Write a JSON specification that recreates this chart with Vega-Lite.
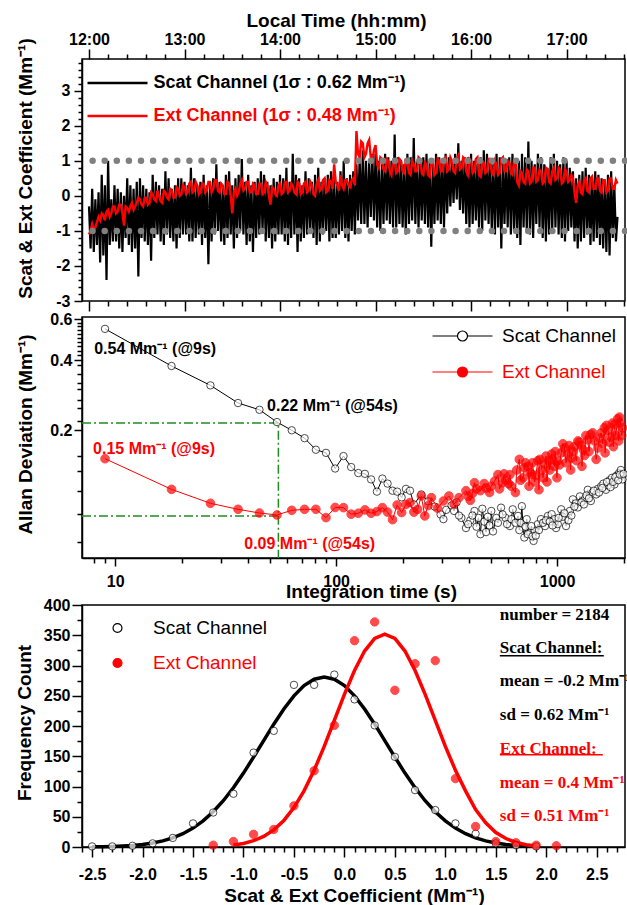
{
"$schema":"https://vega.github.io/schema/vega-lite/v6.json",
"padding":{"left":14,"top":10,"right":0,"bottom":0},
"bounds":"flush",
"spacing":16,
"config":{
 "font":"Liberation Sans",
 "view":{"stroke":"#000","strokeWidth":1.5},
 "axis":{"domainColor":"#000","domainWidth":1.5,"tickColor":"#000","tickWidth":1.5,"labelFont":"Liberation Sans","labelFontWeight":"bold","labelFontSize":16,"labelColor":"#000","titleFont":"Liberation Sans","titleFontWeight":"bold","titleFontSize":19,"titleColor":"#000","grid":false,"labelOverlap":false,"labelBound":false,"labelFlush":false}
},
"resolve":{"scale":{"x":"independent","y":"independent","color":"independent"}},
"datasets":{
 "ts":[
{"m":0,"s":-0.3,"e":-1.1},{"m":1,"s":-1.5,"e":-1.0},{"m":2,"s":0.2,"e":-0.8},{"m":3,"s":-1.6,"e":-0.95},{"m":4,"s":-0.1,"e":-0.9},{"m":5,"s":-1.4,"e":-0.75},{"m":6,"s":0.1,"e":-0.6},{"m":7,"s":-1.9,"e":-0.7},{"m":8,"s":0.6,"e":-0.5},{"m":9,"s":-1.7,"e":-0.55},
{"m":10,"s":0.3,"e":-0.7},{"m":11,"s":-2.4,"e":-0.45},{"m":12,"s":1.0,"e":-0.4},{"m":13,"s":-1.4,"e":-0.6},{"m":14,"s":-0.1,"e":-0.5},{"m":15,"s":-1.3,"e":-0.3},{"m":16,"s":0.3,"e":-0.3},{"m":17,"s":-1.3,"e":-0.5},{"m":18,"s":0.2,"e":-0.45},{"m":19,"s":-1.5,"e":-0.25},
{"m":20,"s":0.1,"e":-0.25},{"m":21,"s":-1.6,"e":-0.5},{"m":22,"s":0.0,"e":-0.85},{"m":23,"s":-1.2,"e":-0.3},{"m":24,"s":0.5,"e":-0.35},{"m":25,"s":-1.4,"e":-0.45},{"m":26,"s":0.3,"e":-0.3},{"m":27,"s":-1.6,"e":-0.2},{"m":28,"s":0.2,"e":-0.4},{"m":29,"s":-1.5,"e":-0.3},
{"m":30,"s":0.4,"e":-0.2},{"m":31,"s":-2.3,"e":-0.05},{"m":32,"s":0.5,"e":-0.1},{"m":33,"s":-1.2,"e":-0.25},{"m":34,"s":0.3,"e":-0.3},{"m":35,"s":-1.3,"e":-0.05},{"m":36,"s":0.2,"e":-0.05},{"m":37,"s":-1.4,"e":-0.25},{"m":38,"s":0.1,"e":-0.2},{"m":39,"s":-1.85,"e":0.1},
{"m":40,"s":0.6,"e":0.05},{"m":41,"s":-1.2,"e":-0.1},{"m":42,"s":0.4,"e":-0.15},{"m":43,"s":-1.1,"e":0.15},{"m":44,"s":0.3,"e":0.0},{"m":45,"s":-1.3,"e":-0.15},{"m":46,"s":0.2,"e":-0.2},{"m":47,"s":-1.4,"e":0.15},{"m":48,"s":0.7,"e":0.1},{"m":49,"s":-1.1,"e":-0.05},
{"m":50,"s":0.5,"e":-0.1},{"m":51,"s":-1.2,"e":0.2},{"m":52,"s":0.2,"e":0.15},{"m":53,"s":-1.3,"e":-0.05},{"m":54,"s":0.3,"e":-0.05},{"m":55,"s":-1.5,"e":0.25},{"m":56,"s":0.5,"e":0.2},{"m":57,"s":-1.2,"e":0.0},{"m":58,"s":0.5,"e":0.05},{"m":59,"s":-1.1,"e":0.3},
{"m":60,"s":0.4,"e":0.25},{"m":61,"s":-1.1,"e":0.05},{"m":62,"s":0.3,"e":0.1},{"m":63,"s":-1.3,"e":0.35},{"m":64,"s":0.8,"e":0.4},{"m":65,"s":-1.3,"e":0.1},{"m":66,"s":0.5,"e":0.15},{"m":67,"s":-1.2,"e":0.4},{"m":68,"s":0.3,"e":0.3},{"m":69,"s":-1.1,"e":0.05},
{"m":70,"s":0.4,"e":0.1},{"m":71,"s":-1.4,"e":0.35},{"m":72,"s":0.6,"e":0.35},{"m":73,"s":-1.2,"e":0.1},{"m":74,"s":0.3,"e":0.15},{"m":75,"s":-1.95,"e":0.4},{"m":76,"s":0.4,"e":0.4},{"m":77,"s":-1.3,"e":0.1},{"m":78,"s":0.5,"e":0.2},{"m":79,"s":-1.1,"e":0.45},
{"m":80,"s":0.9,"e":0.45},{"m":81,"s":-1.0,"e":0.15},{"m":82,"s":0.4,"e":0.1},{"m":83,"s":-1.3,"e":0.35},{"m":84,"s":0.3,"e":0.3},{"m":85,"s":-1.4,"e":0.05},{"m":86,"s":0.6,"e":0.05},{"m":87,"s":-1.2,"e":0.4},{"m":88,"s":0.7,"e":0.35},{"m":89,"s":-1.1,"e":0.0},
{"m":90,"s":0.3,"e":-0.5},{"m":91,"s":-1.5,"e":0.1},{"m":92,"s":0.5,"e":0.2},{"m":93,"s":-1.2,"e":0.0},{"m":94,"s":0.6,"e":0.1},{"m":95,"s":-1.0,"e":0.35},{"m":96,"s":1.05,"e":0.45},{"m":97,"s":-1.1,"e":0.15},{"m":98,"s":0.4,"e":0.2},{"m":99,"s":-1.4,"e":0.4},
{"m":100,"s":0.6,"e":0.4},{"m":101,"s":-1.3,"e":0.1},{"m":102,"s":0.3,"e":0.1},{"m":103,"s":-1.6,"e":0.35},{"m":104,"s":0.4,"e":0.3},{"m":105,"s":-1.2,"e":0.05},{"m":106,"s":0.5,"e":0.05},{"m":107,"s":-1.1,"e":0.35},{"m":108,"s":0.7,"e":0.35},{"m":109,"s":-1.0,"e":0.05},
{"m":110,"s":0.6,"e":0.1},{"m":111,"s":-1.3,"e":0.4},{"m":112,"s":0.4,"e":0.3},{"m":113,"s":-1.2,"e":0.0},{"m":114,"s":0.3,"e":-0.25},{"m":115,"s":-1.5,"e":0.25},{"m":116,"s":0.5,"e":0.2},{"m":117,"s":-1.3,"e":0.05},{"m":118,"s":0.4,"e":0.0},{"m":119,"s":-1.1,"e":0.3},
{"m":120,"s":0.6,"e":0.35},{"m":121,"s":-1.1,"e":0.05},{"m":122,"s":0.5,"e":0.1},{"m":123,"s":-1.3,"e":0.4},{"m":124,"s":0.8,"e":0.4},{"m":125,"s":-1.4,"e":0.1},{"m":126,"s":0.4,"e":0.15},{"m":127,"s":-1.2,"e":0.35},{"m":128,"s":1.2,"e":0.3},{"m":129,"s":-1.1,"e":0.1},
{"m":130,"s":0.6,"e":0.05},{"m":131,"s":-1.6,"e":0.4},{"m":132,"s":0.5,"e":0.35},{"m":133,"s":-1.3,"e":0.05},{"m":134,"s":0.3,"e":0.1},{"m":135,"s":-1.2,"e":0.35},{"m":136,"s":0.7,"e":0.4},{"m":137,"s":-1.1,"e":0.1},{"m":138,"s":0.5,"e":0.15},{"m":139,"s":-1.0,"e":0.4},
{"m":140,"s":0.4,"e":0.3},{"m":141,"s":-1.2,"e":0.05},{"m":142,"s":0.6,"e":0.0},{"m":143,"s":-1.4,"e":0.35},{"m":144,"s":0.8,"e":0.45},{"m":145,"s":-1.3,"e":0.15},{"m":146,"s":0.4,"e":0.2},{"m":147,"s":-1.1,"e":0.45},{"m":148,"s":0.5,"e":0.5},{"m":149,"s":-1.0,"e":0.1},
{"m":150,"s":0.6,"e":0.15},{"m":151,"s":-1.3,"e":0.45},{"m":152,"s":0.7,"e":0.4},{"m":153,"s":-1.2,"e":0.2},{"m":154,"s":0.5,"e":0.9},{"m":155,"s":-1.2,"e":0.4},{"m":156,"s":0.4,"e":0.3},{"m":157,"s":-1.1,"e":0.15},{"m":158,"s":0.7,"e":0.6},{"m":159,"s":-1.0,"e":0.3},
{"m":160,"s":1.0,"e":0.2},{"m":161,"s":-1.2,"e":0.45},{"m":162,"s":0.5,"e":0.45},{"m":163,"s":-1.3,"e":0.3},{"m":164,"s":0.6,"e":0.25},{"m":165,"s":-1.0,"e":0.45},{"m":166,"s":0.7,"e":0.5},{"m":167,"s":-1.1,"e":0.3},{"m":168,"s":0.9,"e":1.85},{"m":169,"s":-0.7,"e":1.2},
{"m":170,"s":1.1,"e":1.1},{"m":171,"s":-0.8,"e":1.55},{"m":172,"s":1.3,"e":1.5},{"m":173,"s":-0.8,"e":1.1},{"m":174,"s":1.0,"e":1.2},{"m":175,"s":-0.9,"e":1.5},{"m":176,"s":1.0,"e":1.6},{"m":177,"s":-0.6,"e":1.1},{"m":178,"s":1.2,"e":1.0},{"m":179,"s":-0.7,"e":1.3},
{"m":180,"s":1.2,"e":1.45},{"m":181,"s":-0.9,"e":0.9},{"m":182,"s":1.0,"e":0.8},{"m":183,"s":-1.0,"e":1.1},{"m":184,"s":0.9,"e":1.05},{"m":185,"s":-0.8,"e":0.75},{"m":186,"s":1.2,"e":0.7},{"m":187,"s":-0.7,"e":1.05},{"m":188,"s":1.1,"e":1.0},{"m":189,"s":-0.8,"e":0.7},
{"m":190,"s":1.0,"e":0.6},{"m":191,"s":-0.9,"e":1.0},{"m":192,"s":1.75,"e":0.95},{"m":193,"s":-0.9,"e":0.65},{"m":194,"s":1.1,"e":0.7},{"m":195,"s":-0.8,"e":1.05},{"m":196,"s":1.0,"e":1.0},{"m":197,"s":-0.9,"e":0.7},{"m":198,"s":0.9,"e":0.65},{"m":199,"s":-1.1,"e":1.0},
{"m":200,"s":1.2,"e":0.95},{"m":201,"s":-0.8,"e":0.65},{"m":202,"s":1.1,"e":0.6},{"m":203,"s":-0.7,"e":1.0},{"m":204,"s":1.65,"e":0.9},{"m":205,"s":-0.8,"e":0.7},{"m":206,"s":1.0,"e":0.7},{"m":207,"s":-0.9,"e":1.1},{"m":208,"s":1.0,"e":1.05},{"m":209,"s":-0.7,"e":0.65},
{"m":210,"s":1.1,"e":0.6},{"m":211,"s":-0.8,"e":0.95},{"m":212,"s":1.2,"e":0.9},{"m":213,"s":-0.9,"e":0.6},{"m":214,"s":1.0,"e":0.55},{"m":215,"s":-1.45,"e":1.0},{"m":216,"s":0.9,"e":0.95},{"m":217,"s":-0.8,"e":0.6},{"m":218,"s":1.2,"e":0.65},{"m":219,"s":-0.7,"e":1.05},
{"m":220,"s":1.1,"e":1.0},{"m":221,"s":-0.8,"e":0.7},{"m":222,"s":1.0,"e":0.7},{"m":223,"s":-0.9,"e":1.05},{"m":224,"s":1.2,"e":1.1},{"m":225,"s":-0.5,"e":0.7},{"m":226,"s":1.1,"e":0.75},{"m":227,"s":-0.3,"e":1.1},{"m":228,"s":1.0,"e":1.0},{"m":229,"s":-0.2,"e":0.7},
{"m":230,"s":1.2,"e":0.65},{"m":231,"s":-0.1,"e":1.05},{"m":232,"s":1.5,"e":1.15},{"m":233,"s":-0.4,"e":0.75},{"m":234,"s":1.0,"e":0.8},{"m":235,"s":-0.5,"e":1.1},{"m":236,"s":1.1,"e":1.05},{"m":237,"s":-0.8,"e":0.7},{"m":238,"s":1.1,"e":0.6},{"m":239,"s":-0.9,"e":1.05},
{"m":240,"s":1.2,"e":1.0},{"m":241,"s":-0.8,"e":0.65},{"m":242,"s":1.0,"e":0.7},{"m":243,"s":-0.7,"e":1.05},{"m":244,"s":0.9,"e":1.1},{"m":245,"s":-0.9,"e":0.6},{"m":246,"s":1.1,"e":0.55},{"m":247,"s":-1.0,"e":1.0},{"m":248,"s":1.3,"e":0.95},{"m":249,"s":-0.7,"e":0.65},
{"m":250,"s":1.2,"e":0.7},{"m":251,"s":-0.8,"e":1.05},{"m":252,"s":1.0,"e":1.05},{"m":253,"s":-1.0,"e":0.65},{"m":254,"s":0.9,"e":0.6},{"m":255,"s":-1.1,"e":1.0},{"m":256,"s":1.2,"e":0.9},{"m":257,"s":-0.9,"e":0.6},{"m":258,"s":1.1,"e":0.65},{"m":259,"s":-1.5,"e":1.05},
{"m":260,"s":1.0,"e":1.1},{"m":261,"s":-0.8,"e":0.7},{"m":262,"s":1.0,"e":0.7},{"m":263,"s":-0.9,"e":1.0},{"m":264,"s":1.1,"e":0.95},{"m":265,"s":-1.1,"e":0.65},{"m":266,"s":1.2,"e":0.6},{"m":267,"s":-1.0,"e":1.0},{"m":268,"s":0.9,"e":0.9},{"m":269,"s":-1.2,"e":0.4},
{"m":270,"s":1.0,"e":0.3},{"m":271,"s":-1.4,"e":0.7},{"m":272,"s":1.2,"e":0.65},{"m":273,"s":-0.9,"e":0.4},{"m":274,"s":1.1,"e":0.35},{"m":275,"s":-1.0,"e":0.75},{"m":276,"s":1.55,"e":0.7},{"m":277,"s":-1.1,"e":0.35},{"m":278,"s":1.0,"e":0.4},{"m":279,"s":-1.2,"e":0.8},
{"m":280,"s":0.9,"e":0.8},{"m":281,"s":-0.8,"e":0.4},{"m":282,"s":1.2,"e":0.45},{"m":283,"s":-0.9,"e":0.75},{"m":284,"s":1.1,"e":0.7},{"m":285,"s":-1.2,"e":0.35},{"m":286,"s":0.9,"e":0.4},{"m":287,"s":-1.3,"e":0.8},{"m":288,"s":0.8,"e":0.75},{"m":289,"s":-1.1,"e":0.4},
{"m":290,"s":1.1,"e":0.35},{"m":291,"s":-1.0,"e":0.7},{"m":292,"s":1.2,"e":0.8},{"m":293,"s":-0.9,"e":0.45},{"m":294,"s":1.0,"e":0.5},{"m":295,"s":-1.1,"e":0.8},{"m":296,"s":0.9,"e":0.75},{"m":297,"s":-1.2,"e":0.35},{"m":298,"s":1.1,"e":0.4},{"m":299,"s":-1.3,"e":0.75},
{"m":300,"s":1.0,"e":0.7},{"m":301,"s":-1.0,"e":0.4},{"m":302,"s":0.8,"e":0.45},{"m":303,"s":-0.9,"e":0.6},{"m":304,"s":0.7,"e":0.5},{"m":305,"s":-1.3,"e":0.1},{"m":306,"s":0.5,"e":-0.2},{"m":307,"s":-1.5,"e":0.3},{"m":308,"s":0.6,"e":0.4},{"m":309,"s":-1.3,"e":0.1},
{"m":310,"s":0.7,"e":0.05},{"m":311,"s":-1.2,"e":0.45},{"m":312,"s":0.8,"e":0.5},{"m":313,"s":-1.1,"e":0.15},{"m":314,"s":0.6,"e":0.1},{"m":315,"s":-1.4,"e":0.5},{"m":316,"s":0.5,"e":0.55},{"m":317,"s":-1.3,"e":0.2},{"m":318,"s":0.7,"e":0.2},{"m":319,"s":-1.2,"e":0.5},
{"m":320,"s":0.6,"e":0.5},{"m":321,"s":-1.4,"e":0.15},{"m":322,"s":0.5,"e":0.1},{"m":323,"s":-1.5,"e":0.45},{"m":324,"s":0.4,"e":0.45},{"m":325,"s":-1.6,"e":0.1},{"m":326,"s":0.6,"e":0.15},{"m":327,"s":-1.7,"e":0.5},{"m":328,"s":0.7,"e":0.5},{"m":329,"s":-1.2,"e":0.2},
{"m":330,"s":0.3,"e":0.2},{"m":331,"s":-1.3,"e":0.45},{"m":332,"s":-0.6,"e":0.35}
 ],
 "scat":[
{"tau":9,"dev":0.546},{"tau":18,"dev":0.378},{"tau":27,"dev":0.312},{"tau":36,"dev":0.262},{"tau":45,"dev":0.245},{"tau":54,"dev":0.217},{"tau":63,"dev":0.2},{"tau":72,"dev":0.185},{"tau":81,"dev":0.165},{"tau":90,"dev":0.16},{"tau":99,"dev":0.137},{"tau":108,"dev":0.155},{"tau":117,"dev":0.139},{"tau":126,"dev":0.131},{"tau":135,"dev":0.13},{"tau":144,"dev":0.123},{"tau":153,"dev":0.109},{"tau":162,"dev":0.124},{"tau":171,"dev":0.118},{"tau":180,"dev":0.11},{"tau":189,"dev":0.109},{"tau":198,"dev":0.103},{"tau":207,"dev":0.112},{"tau":216,"dev":0.11},{"tau":225,"dev":0.096},{"tau":243,"dev":0.106},{"tau":261,"dev":0.099},{"tau":279,"dev":0.094},{"tau":297,"dev":0.087},{"tau":315,"dev":0.091},{"tau":333,"dev":0.095},{"tau":351,"dev":0.098},{"tau":369,"dev":0.084},{"tau":387,"dev":0.076},{"tau":405,"dev":0.082},{"tau":423,"dev":0.09},{"tau":441,"dev":0.084},{"tau":450,"dev":0.0715},{"tau":459,"dev":0.092},{"tau":477,"dev":0.073},{"tau":504,"dev":0.09},{"tau":531,"dev":0.084},{"tau":558,"dev":0.093},{"tau":585,"dev":0.084},{"tau":612,"dev":0.0775},{"tau":630,"dev":0.0915},{"tau":666,"dev":0.0857},{"tau":693,"dev":0.0944},{"tau":702,"dev":0.0764},{"tau":711,"dev":0.0692},{"tau":729,"dev":0.083},{"tau":756,"dev":0.0727},{"tau":783,"dev":0.0669},{"tau":792,"dev":0.074},{"tau":819,"dev":0.079},{"tau":846,"dev":0.083},{"tau":882,"dev":0.0775},{"tau":909,"dev":0.0857},{"tau":945,"dev":0.0872},{"tau":972,"dev":0.083},{"tau":990,"dev":0.076},{"tau":1008,"dev":0.079},{"tau":1044,"dev":0.0915},{"tau":1062,"dev":0.085},{"tau":1098,"dev":0.0775},{"tau":1125,"dev":0.082},{"tau":1143,"dev":0.09},{"tau":1179,"dev":0.101},{"tau":1215,"dev":0.097},{"tau":1242,"dev":0.0932},{"tau":1269,"dev":0.104},{"tau":1305,"dev":0.0993},{"tau":1341,"dev":0.102},{"tau":1377,"dev":0.111},{"tau":1422,"dev":0.0993},{"tau":1449,"dev":0.108},{"tau":1503,"dev":0.106},{"tau":1530,"dev":0.112},{"tau":1584,"dev":0.115},{"tau":1620,"dev":0.118},{"tau":1665,"dev":0.111},{"tau":1701,"dev":0.116},{"tau":1728,"dev":0.122},{"tau":1773,"dev":0.125},{"tau":1818,"dev":0.117},{"tau":1863,"dev":0.128},{"tau":1908,"dev":0.131},{"tau":1944,"dev":0.135},{"tau":1962,"dev":0.128},{"tau":1980,"dev":0.123},
{"tau":306,"dev":0.083},{"tau":342,"dev":0.09},{"tau":360,"dev":0.086},{"tau":396,"dev":0.079},{"tau":414,"dev":0.086},{"tau":432,"dev":0.077},{"tau":468,"dev":0.081},{"tau":486,"dev":0.085},{"tau":495,"dev":0.078},{"tau":513,"dev":0.0735},{"tau":540,"dev":0.08},{"tau":567,"dev":0.087},{"tau":594,"dev":0.079},{"tau":621,"dev":0.083},{"tau":648,"dev":0.08},{"tau":675,"dev":0.0745},{"tau":684,"dev":0.08},{"tau":720,"dev":0.077},{"tau":738,"dev":0.0715},{"tau":765,"dev":0.0775},{"tau":774,"dev":0.07},{"tau":801,"dev":0.0705},{"tau":828,"dev":0.0745},{"tau":864,"dev":0.08},{"tau":891,"dev":0.082},{"tau":927,"dev":0.081},{"tau":954,"dev":0.078},{"tau":1017,"dev":0.084},{"tau":1080,"dev":0.088},{"tau":1161,"dev":0.086},{"tau":1197,"dev":0.094},{"tau":1287,"dev":0.098},{"tau":1323,"dev":0.096},{"tau":1359,"dev":0.105},{"tau":1395,"dev":0.102},{"tau":1467,"dev":0.11},{"tau":1548,"dev":0.108},{"tau":1602,"dev":0.113},{"tau":1683,"dev":0.12},{"tau":1746,"dev":0.114},{"tau":1791,"dev":0.12},{"tau":1836,"dev":0.126},{"tau":1890,"dev":0.122},{"tau":1926,"dev":0.129},{"tau":2000,"dev":0.13}
 ],
 "ext":[
{"tau":9,"dev":0.151},{"tau":18,"dev":0.1115},{"tau":27,"dev":0.0971},{"tau":36,"dev":0.0915},{"tau":45,"dev":0.0882},{"tau":54,"dev":0.0865},{"tau":63,"dev":0.0906},{"tau":72,"dev":0.0915},{"tau":81,"dev":0.0915},{"tau":90,"dev":0.0843},{"tau":99,"dev":0.0932},{"tau":108,"dev":0.093},{"tau":117,"dev":0.0872},{"tau":126,"dev":0.088},{"tau":135,"dev":0.091},{"tau":144,"dev":0.088},{"tau":153,"dev":0.0895},{"tau":162,"dev":0.093},{"tau":171,"dev":0.089},{"tau":180,"dev":0.0826},{"tau":189,"dev":0.0955},{"tau":198,"dev":0.0886},{"tau":207,"dev":0.096},{"tau":216,"dev":0.0978},{"tau":225,"dev":0.089},{"tau":234,"dev":0.0915},{"tau":243,"dev":0.1044},{"tau":252,"dev":0.0857},{"tau":261,"dev":0.095},{"tau":270,"dev":0.1027},{"tau":288,"dev":0.0925},{"tau":306,"dev":0.0993},{"tau":324,"dev":0.1044},{"tau":342,"dev":0.0963},{"tau":360,"dev":0.1027},{"tau":387,"dev":0.11},{"tau":405,"dev":0.1},{"tau":414,"dev":0.107},{"tau":423,"dev":0.119},{"tau":450,"dev":0.11},{"tau":477,"dev":0.113},{"tau":504,"dev":0.115},{"tau":540,"dev":0.129},{"tau":567,"dev":0.119},{"tau":585,"dev":0.122},{"tau":612,"dev":0.129},{"tau":621,"dev":0.115},{"tau":648,"dev":0.108},{"tau":675,"dev":0.15},{"tau":702,"dev":0.125},{"tau":711,"dev":0.138},{"tau":738,"dev":0.14},{"tau":747,"dev":0.115},{"tau":765,"dev":0.129},{"tau":792,"dev":0.12},{"tau":819,"dev":0.148},{"tau":828,"dev":0.111},{"tau":855,"dev":0.135},{"tau":882,"dev":0.143},{"tau":900,"dev":0.12},{"tau":918,"dev":0.148},{"tau":945,"dev":0.158},{"tau":972,"dev":0.14},{"tau":999,"dev":0.125},{"tau":1008,"dev":0.148},{"tau":1044,"dev":0.16},{"tau":1080,"dev":0.168},{"tau":1116,"dev":0.158},{"tau":1152,"dev":0.135},{"tau":1161,"dev":0.152},{"tau":1197,"dev":0.17},{"tau":1242,"dev":0.18},{"tau":1287,"dev":0.172},{"tau":1296,"dev":0.14},{"tau":1332,"dev":0.156},{"tau":1377,"dev":0.182},{"tau":1422,"dev":0.192},{"tau":1476,"dev":0.18},{"tau":1503,"dev":0.15},{"tau":1530,"dev":0.168},{"tau":1584,"dev":0.195},{"tau":1638,"dev":0.205},{"tau":1650,"dev":0.16},{"tau":1701,"dev":0.2},{"tau":1755,"dev":0.187},{"tau":1800,"dev":0.17},{"tau":1818,"dev":0.212},{"tau":1881,"dev":0.224},{"tau":1899,"dev":0.18},{"tau":1935,"dev":0.215},{"tau":1980,"dev":0.205},
{"tau":396,"dev":0.104},{"tau":432,"dev":0.112},{"tau":468,"dev":0.118},{"tau":495,"dev":0.108},{"tau":522,"dev":0.121},{"tau":549,"dev":0.112},{"tau":576,"dev":0.13},{"tau":603,"dev":0.118},{"tau":657,"dev":0.135},{"tau":684,"dev":0.122},{"tau":720,"dev":0.145},{"tau":756,"dev":0.132},{"tau":774,"dev":0.145},{"tau":801,"dev":0.128},{"tau":837,"dev":0.15},{"tau":864,"dev":0.125},{"tau":891,"dev":0.155},{"tau":927,"dev":0.135},{"tau":954,"dev":0.15},{"tau":981,"dev":0.162},{"tau":1026,"dev":0.142},{"tau":1062,"dev":0.175},{"tau":1098,"dev":0.145},{"tau":1134,"dev":0.172},{"tau":1179,"dev":0.162},{"tau":1224,"dev":0.148},{"tau":1260,"dev":0.178},{"tau":1314,"dev":0.165},{"tau":1350,"dev":0.19},{"tau":1395,"dev":0.162},{"tau":1449,"dev":0.195},{"tau":1557,"dev":0.185},{"tau":1611,"dev":0.175},{"tau":1674,"dev":0.21},{"tau":1728,"dev":0.178},{"tau":1782,"dev":0.215},{"tau":1845,"dev":0.19},{"tau":1917,"dev":0.228},{"tau":1962,"dev":0.19}
 ],
 "gl":[{"tau":7.08,"dev":0.215,"g":"a","o":1},{"tau":54.8,"dev":0.215,"g":"a","o":2},{"tau":54.8,"dev":0.0565,"g":"a","o":3},{"tau":7.08,"dev":0.0857,"g":"b","o":1},{"tau":54.8,"dev":0.0857,"g":"b","o":2}],
 "ank":[{"tau":8.04,"dev":0.4255,"t":"0.54 Mm⁻¹ (@9s)"},{"tau":48.7,"dev":0.242,"t":"0.22 Mm⁻¹ (@54s)"}],
 "anr":[{"tau":7.95,"dev":0.1577,"t":"0.15 Mm⁻¹ (@9s)"},{"tau":38.4,"dev":0.0616,"t":"0.09 Mm⁻¹ (@54s)"}],
 "hs":[{"x":-2.5,"n":1},{"x":-2.3,"n":1},{"x":-2.1,"n":2},{"x":-1.9,"n":6},{"x":-1.7,"n":15},{"x":-1.5,"n":39},{"x":-1.3,"n":57},{"x":-1.1,"n":88},{"x":-0.9,"n":156},{"x":-0.7,"n":192},{"x":-0.5,"n":268},{"x":-0.3,"n":268},{"x":-0.1,"n":285},{"x":0.1,"n":244},{"x":0.3,"n":201},{"x":0.5,"n":149},{"x":0.7,"n":94},{"x":0.9,"n":61},{"x":1.1,"n":39},{"x":1.3,"n":22},{"x":1.5,"n":6},{"x":1.7,"n":3},{"x":1.9,"n":1}],
 "he":[{"x":-1.3,"n":3},{"x":-1.1,"n":9},{"x":-0.9,"n":21},{"x":-0.7,"n":29},{"x":-0.5,"n":68},{"x":-0.3,"n":126},{"x":-0.1,"n":201},{"x":0.1,"n":341},{"x":0.3,"n":372},{"x":0.5,"n":259},{"x":0.7,"n":303},{"x":0.9,"n":308},{"x":1.1,"n":113},{"x":1.3,"n":34},{"x":1.5,"n":9},{"x":1.7,"n":7},{"x":1.9,"n":3},{"x":2.1,"n":2}],
 "cs":[{"x":-2.5,"n":0.3},{"x":-2.4,"n":0.5},{"x":-2.3,"n":0.9},{"x":-2.2,"n":1.6},{"x":-2.1,"n":2.6},{"x":-2.0,"n":4.2},{"x":-1.9,"n":6.6},{"x":-1.8,"n":10.1},{"x":-1.7,"n":15.1},{"x":-1.6,"n":22},{"x":-1.5,"n":31.2},{"x":-1.4,"n":43.2},{"x":-1.3,"n":58.3},{"x":-1.2,"n":76.5},{"x":-1.1,"n":98},{"x":-1.0,"n":122.2},{"x":-0.9,"n":148.6},{"x":-0.8,"n":175.9},{"x":-0.7,"n":203},{"x":-0.6,"n":228.2},{"x":-0.5,"n":249.9},{"x":-0.4,"n":266.8},{"x":-0.3,"n":277.4},{"x":-0.2,"n":281},{"x":-0.1,"n":277.4},{"x":0.0,"n":266.8},{"x":0.1,"n":249.9},{"x":0.2,"n":228.2},{"x":0.3,"n":203},{"x":0.4,"n":175.9},{"x":0.5,"n":148.6},{"x":0.6,"n":122.2},{"x":0.7,"n":98},{"x":0.8,"n":76.5},{"x":0.9,"n":58.3},{"x":1.0,"n":43.2},{"x":1.1,"n":31.2},{"x":1.2,"n":22},{"x":1.3,"n":15.1},{"x":1.4,"n":10.1},{"x":1.5,"n":6.6},{"x":1.6,"n":4.2},{"x":1.7,"n":2.6},{"x":1.8,"n":1.6},{"x":1.9,"n":0.9}],
 "ce":[{"x":-1.1,"n":3.2},{"x":-1.0,"n":5.9},{"x":-0.9,"n":10.4},{"x":-0.8,"n":17.5},{"x":-0.7,"n":28.3},{"x":-0.6,"n":43.9},{"x":-0.5,"n":65.2},{"x":-0.4,"n":92.8},{"x":-0.3,"n":126.9},{"x":-0.2,"n":166.3},{"x":-0.1,"n":209.2},{"x":0.0,"n":252.2},{"x":0.1,"n":291.8},{"x":0.2,"n":323.9},{"x":0.3,"n":344.7},{"x":0.4,"n":352},{"x":0.5,"n":344.7},{"x":0.6,"n":323.9},{"x":0.7,"n":291.8},{"x":0.8,"n":252.2},{"x":0.9,"n":209.2},{"x":1.0,"n":166.3},{"x":1.1,"n":126.9},{"x":1.2,"n":92.8},{"x":1.3,"n":62},{"x":1.4,"n":40},{"x":1.5,"n":24},{"x":1.6,"n":14},{"x":1.7,"n":7.5},{"x":1.8,"n":3.8},{"x":1.9,"n":1.8}],
 "tk":[{"x":1.54,"n":376,"t":"number = 2184"},{"x":1.54,"n":320,"t":"Scat Channel:"},{"x":1.54,"n":266,"t":"mean = -0.2 Mm⁻¹"},{"x":1.54,"n":210,"t":"sd = 0.62 Mm⁻¹"}],
 "tr":[{"x":1.54,"n":154,"t":"Ext Channel:"},{"x":1.54,"n":98,"t":"mean = 0.4 Mm⁻¹"},{"x":1.54,"n":43,"t":"sd = 0.51 Mm⁻¹"}],
 "ulk":[{"x":1.54,"x2":2.57,"n":316}],
 "ulr":[{"x":1.54,"x2":2.56,"n":152.5}]
},
"vconcat":[
 {
  "width":543,"height":242,
  "resolve":{"axis":{"x":"independent","y":"independent"}},
  "layer":[
   {
    "data":{"name":"ts"},
    "mark":{"type":"line","strokeWidth":2.2},
    "encoding":{
     "x":{"field":"m","type":"quantitative","scale":{"domain":[-4.4,336.7],"nice":false,"zero":false},
      "axis":{"orient":"bottom","values":[0,12,24,36,48,60,72,84,96,108,120,132,144,156,168,180,192,204,216,228,240,252,264,276,288,300,312,324,336],"labels":false,"title":null,"domain":false,"tickSize":{"condition":{"test":"datum.value % 60 === 0","value":10},"value":5}}},
     "y":{"field":"s","type":"quantitative","scale":{"domain":[-3,3.905],"nice":false,"zero":false},
      "axis":{"title":"Scat & Ext Coefficient (Mm⁻¹)","values":[-3,-2.8,-2.6,-2.4,-2.2,-2,-1.8,-1.6,-1.4,-1.2,-1,-0.8,-0.6,-0.4,-0.2,0,0.2,0.4,0.6,0.8,1,1.2,1.4,1.6,1.8,2,2.2,2.4,2.6,2.8,3,3.2,3.4,3.6,3.8],
       "labelExpr":"abs(datum.value - round(datum.value)) < 0.001 ? (datum.value < -0.001 ? '-' : '') + format(abs(datum.value), 'd') : ''",
       "tickSize":{"condition":{"test":"abs(datum.value - round(datum.value)) < 0.001","value":8},"value":4},
       "labelPadding":4,"titleX":-47,"titleY":109,"titleAlign":"center"}},
     "color":{"datum":"s","type":"nominal","scale":{"domain":["s","e"],"range":["#000000","#ff0000"]},
      "legend":{"orient":"none","legendX":26.5,"legendY":15,"title":null,"padding":0,"symbolType":"M-6,0H6","symbolSize":100,"symbolStrokeWidth":2.5,"labelFontSize":18,"labelFontWeight":"bold","labelFont":"Liberation Sans","labelOffset":27,"labelLimit":600,"rowPadding":15,
       "labelExpr":"datum.value === 's' ? 'Scat Channel  (1σ : 0.62 Mm⁻¹)' : 'Ext Channel (1σ : 0.48 Mm⁻¹)'",
       "encode":{"labels":{"update":{"fill":{"signal":"datum.value === 'e' ? '#ff0000' : '#000000'"}}}}}}
    }
   },
   {
    "data":{"name":"ts"},
    "mark":{"type":"line","strokeWidth":2.4},
    "encoding":{
     "x":{"field":"m","type":"quantitative","axis":null},
     "y":{"field":"e","type":"quantitative","axis":null},
     "color":{"datum":"e","type":"nominal"}
    }
   },
   {
    "data":{"values":[{"ref":1},{"ref":-1}]},
    "mark":{"type":"rule","color":"#808080","strokeWidth":6.5,"strokeDash":[0,12.1],"strokeCap":"round"},
    "encoding":{"y":{"field":"ref","type":"quantitative","axis":null}}
   },
   {
    "data":{"values":[{"m":100}]},
    "mark":{"type":"point","opacity":0},
    "encoding":{
     "x":{"field":"m","type":"quantitative",
      "axis":{"orient":"top","title":"Local Time (hh:mm)","values":[0,12,24,36,48,60,72,84,96,108,120,132,144,156,168,180,192,204,216,228,240,252,264,276,288,300,312,324,336],
       "labelExpr":"datum.value % 60 === 0 ? (12 + datum.value / 60) + ':00' : ''",
       "tickSize":{"condition":{"test":"datum.value % 60 === 0","value":10},"value":5},
       "labelBaseline":"alphabetic","labelPadding":5,"titleX":254,"titleY":-33,"titleBaseline":"alphabetic","domain":false}}
    }
   }
  ]
 },
 {
  "width":543,"height":241,
  "resolve":{"axis":{"x":"independent","y":"independent"}},
  "layer":[
   {
    "data":{"name":"gl"},
    "mark":{"type":"line","color":"#1f8f1f","strokeWidth":1.5,"strokeDash":[9,3,2,3]},
    "encoding":{
     "x":{"field":"tau","type":"quantitative","scale":{"type":"log","domain":[7.08,2030],"nice":false},
      "axis":{"title":"Integration time (s)","values":[8,9,10,20,30,40,50,60,70,80,90,100,200,300,400,500,600,700,800,900,1000,2000],"format":"d",
       "labelExpr":"datum.value === 10 || datum.value === 100 || datum.value === 1000 ? datum.label : ''",
       "tickSize":{"condition":{"test":"datum.value === 10 || datum.value === 100 || datum.value === 1000","value":8},"value":5},
       "labelBaseline":"alphabetic","labelPadding":20,"titleX":289,"titleY":39,"titleBaseline":"alphabetic"}},
     "y":{"field":"dev","type":"quantitative","scale":{"type":"log","domain":[0.0565,0.614],"nice":false},
      "axis":{"title":"Allan Deviation (Mm⁻¹)","values":[0.066,0.0873,0.11,0.134,0.155,0.2,0.22,0.25,0.27,0.3,0.32,0.35,0.38,0.4,0.42,0.44,0.46,0.48,0.5,0.52,0.54,0.56,0.58,0.6],
       "labelExpr":"datum.value === 0.2 || datum.value === 0.4 || datum.value === 0.6 ? format(datum.value, '.1f') : ''",
       "tickSize":{"condition":{"test":"datum.value === 0.2 || datum.value === 0.4 || datum.value === 0.6","value":8},"value":5},
       "labelPadding":2,"titleX":-47,"titleY":117,"titleAlign":"center"}},
     "detail":{"field":"g"},
     "order":{"field":"o"}
    }
   },
   {
    "data":{"name":"scat"},
    "mark":{"type":"line","strokeWidth":1},
    "encoding":{
     "x":{"field":"tau","type":"quantitative","axis":null},
     "y":{"field":"dev","type":"quantitative","axis":null},
     "color":{"datum":"Scat","type":"nominal","scale":{"domain":["Scat","Ext"],"range":["#000000","#ff0000"]},
      "legend":{"orient":"none","legendX":371,"legendY":9.5,"title":null,"padding":0,"symbolType":"M-6,0H-1M1,0H6M1,0A1,1,0,1,1,-1,0A1,1,0,1,1,1,0Z","symbolSize":100,"symbolStrokeWidth":1.2,"labelFontSize":19,"labelFontWeight":"normal","labelFont":"Liberation Sans","labelOffset":30,"labelLimit":600,"rowPadding":16,
       "labelExpr":"datum.value === 'Scat' ? 'Scat Channel' : 'Ext Channel'",
       "encode":{"labels":{"update":{"fill":{"signal":"datum.value === 'Ext' ? '#ff0000' : '#000000'"}}},"symbols":{"update":{"fill":{"signal":"datum.value === 'Ext' ? '#ff0000' : '#ffffff'"}}}}}}
    }
   },
   {
    "data":{"name":"scat"},
    "mark":{"type":"point","shape":"circle","filled":false,"fill":"#ffffff","size":55,"strokeWidth":1},
    "encoding":{
     "x":{"field":"tau","type":"quantitative","axis":null},
     "y":{"field":"dev","type":"quantitative","axis":null},
     "color":{"datum":"Scat","type":"nominal"}
    }
   },
   {
    "data":{"name":"ext"},
    "mark":{"type":"line","strokeWidth":1},
    "encoding":{
     "x":{"field":"tau","type":"quantitative","axis":null},
     "y":{"field":"dev","type":"quantitative","axis":null},
     "color":{"datum":"Ext","type":"nominal"}
    }
   },
   {
    "data":{"name":"ext"},
    "mark":{"type":"point","shape":"circle","filled":false,"fill":"#ff0000","size":75,"strokeWidth":1},
    "encoding":{
     "x":{"field":"tau","type":"quantitative","axis":null},
     "y":{"field":"dev","type":"quantitative","axis":null},
     "color":{"datum":"Ext","type":"nominal"}
    }
   },
   {
    "data":{"name":"ank"},
    "mark":{"type":"text","align":"left","baseline":"alphabetic","fontSize":16,"fontWeight":"bold","color":"#000000"},
    "encoding":{
     "x":{"field":"tau","type":"quantitative","axis":null},
     "y":{"field":"dev","type":"quantitative","axis":null},
     "text":{"field":"t"}
    }
   },
   {
    "data":{"name":"anr"},
    "mark":{"type":"text","align":"left","baseline":"alphabetic","fontSize":16,"fontWeight":"bold","color":"#ff0000"},
    "encoding":{
     "x":{"field":"tau","type":"quantitative","axis":null},
     "y":{"field":"dev","type":"quantitative","axis":null},
     "text":{"field":"t"}
    }
   }
  ]
 },
 {
  "width":543,"height":15,
  "view":{"stroke":null},
  "data":{"values":[{"a":0}]},
  "mark":{"type":"point","opacity":0}
 },
 {
  "width":543,"height":242,
  "resolve":{"axis":{"x":"independent","y":"independent"}},
  "layer":[
   {
    "data":{"name":"cs"},
    "mark":{"type":"line","strokeWidth":3.5},
    "encoding":{
     "x":{"field":"x","type":"quantitative","scale":{"domain":[-2.6,2.78],"nice":false,"zero":false},
      "axis":{"title":"Scat & Ext Coefficient (Mm⁻¹)","values":[-2.6,-2.5,-2.4,-2.3,-2.2,-2.1,-2,-1.9,-1.8,-1.7,-1.6,-1.5,-1.4,-1.3,-1.2,-1.1,-1,-0.9,-0.8,-0.7,-0.6,-0.5,-0.4,-0.3,-0.2,-0.1,0,0.1,0.2,0.3,0.4,0.5,0.6,0.7,0.8,0.9,1,1.1,1.2,1.3,1.4,1.5,1.6,1.7,1.8,1.9,2,2.1,2.2,2.3,2.4,2.5,2.6,2.7],
       "labelExpr":"abs(datum.value*2 - round(datum.value*2)) < 0.001 ? (datum.value < -0.001 ? '-' : '') + format(abs(datum.value), '.1f') : ''",
       "tickSize":{"condition":{"test":"abs(datum.value*2 - round(datum.value*2)) < 0.001","value":10},"value":5},
       "labelBaseline":"alphabetic","labelPadding":22,"titleX":272,"titleY":54,"titleBaseline":"alphabetic"}},
     "y":{"field":"n","type":"quantitative","scale":{"domain":[0,400],"nice":false,"zero":false},
      "axis":{"title":"Frequency Count","values":[0,25,50,75,100,125,150,175,200,225,250,275,300,325,350,375,400],
       "labelExpr":"datum.value % 50 === 0 ? format(datum.value, 'd') : ''",
       "tickSize":{"condition":{"test":"datum.value % 50 === 0","value":10},"value":5},
       "labelPadding":2,"titleX":-48,"titleY":117.5,"titleAlign":"center"}},
     "color":{"datum":"Scat","type":"nominal","scale":{"domain":["Scat","Ext"],"range":["#000000","#ff0000"]},
      "legend":{"orient":"none","legendX":26,"legendY":13.5,"title":null,"padding":0,"symbolType":"circle","symbolSize":80,"symbolStrokeWidth":1.2,"labelFontSize":19,"labelFontWeight":"normal","labelFont":"Liberation Sans","labelOffset":26,"labelLimit":600,"rowPadding":15,
       "labelExpr":"datum.value === 'Scat' ? 'Scat Channel' : 'Ext Channel'",
       "encode":{"labels":{"update":{"fill":{"signal":"datum.value === 'Ext' ? '#ff0000' : '#000000'"}}},"symbols":{"update":{"fill":{"signal":"datum.value === 'Ext' ? '#ff0000' : '#ffffff'"},"strokeWidth":{"value":1.2}}}}}}
    }
   },
   {
    "data":{"name":"ce"},
    "mark":{"type":"line","strokeWidth":3.5},
    "encoding":{
     "x":{"field":"x","type":"quantitative","axis":null},
     "y":{"field":"n","type":"quantitative","axis":null},
     "color":{"datum":"Ext","type":"nominal"}
    }
   },
   {
    "data":{"name":"hs"},
    "mark":{"type":"point","shape":"circle","filled":false,"fill":"#ffffff","size":55,"strokeWidth":1},
    "encoding":{
     "x":{"field":"x","type":"quantitative","axis":null},
     "y":{"field":"n","type":"quantitative","axis":null},
     "color":{"datum":"Scat","type":"nominal"}
    }
   },
   {
    "data":{"name":"he"},
    "mark":{"type":"point","shape":"circle","filled":false,"fill":"#ff0000","size":70,"strokeWidth":1},
    "encoding":{
     "x":{"field":"x","type":"quantitative","axis":null},
     "y":{"field":"n","type":"quantitative","axis":null},
     "color":{"datum":"Ext","type":"nominal"}
    }
   },
   {
    "data":{"name":"tk"},
    "mark":{"type":"text","align":"left","baseline":"alphabetic","font":"Liberation Serif","fontSize":17,"fontWeight":"bold","color":"#000000"},
    "encoding":{
     "x":{"field":"x","type":"quantitative","axis":null},
     "y":{"field":"n","type":"quantitative","axis":null},
     "text":{"field":"t"}
    }
   },
   {
    "data":{"name":"tr"},
    "mark":{"type":"text","align":"left","baseline":"alphabetic","font":"Liberation Serif","fontSize":17,"fontWeight":"bold","color":"#ff0000"},
    "encoding":{
     "x":{"field":"x","type":"quantitative","axis":null},
     "y":{"field":"n","type":"quantitative","axis":null},
     "text":{"field":"t"}
    }
   },
   {
    "data":{"name":"ulk"},
    "mark":{"type":"rule","color":"#000000","strokeWidth":1.5},
    "encoding":{
     "x":{"field":"x","type":"quantitative","axis":null},
     "x2":{"field":"x2"},
     "y":{"field":"n","type":"quantitative","axis":null}
    }
   },
   {
    "data":{"name":"ulr"},
    "mark":{"type":"rule","color":"#ff0000","strokeWidth":1.5},
    "encoding":{
     "x":{"field":"x","type":"quantitative","axis":null},
     "x2":{"field":"x2"},
     "y":{"field":"n","type":"quantitative","axis":null}
    }
   }
  ]
 }
]
}
